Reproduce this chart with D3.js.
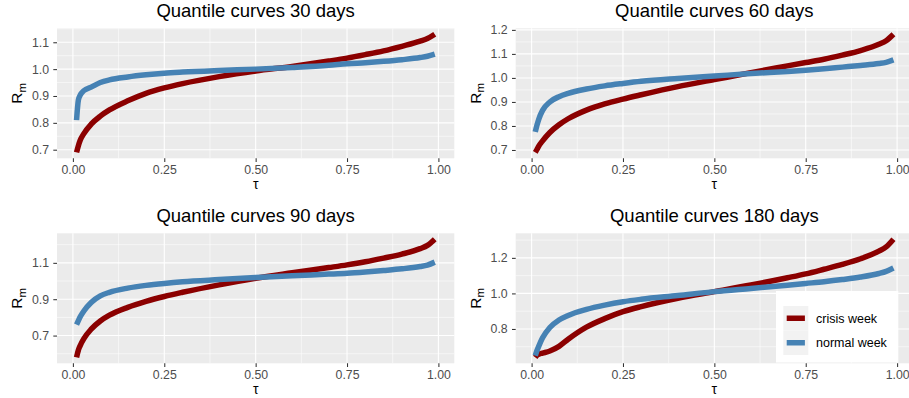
<!DOCTYPE html>
<html>
<head>
<meta charset="utf-8">
<script src="https://cdn.jsdelivr.net/npm/d3@7"></script>
<style>
  html, body { margin: 0; padding: 0; background: #fff; }
  svg { display: block; font-family: "Liberation Sans", Arial, sans-serif; }
</style>
</head>
<body>
<div id="chart"></div>
<script>
// quantile levels shared by every panel
const TAU = [0.01, 0.015, 0.02, 0.03, 0.05, 0.075, 0.1, 0.15, 0.2, 0.25, 0.3, 0.4, 0.5, 0.6, 0.7, 0.75, 0.8, 0.85, 0.9, 0.95, 0.97, 0.99];

const CRISIS_30 = [0.69, 0.715, 0.735, 0.76, 0.795, 0.825, 0.848, 0.882, 0.91, 0.93, 0.946, 0.972, 0.993, 1.01, 1.03, 1.041, 1.054, 1.068, 1.085, 1.104, 1.114, 1.13];
const NORMAL_30 = [0.81, 0.885, 0.903, 0.92, 0.933, 0.95, 0.96, 0.971, 0.979, 0.985, 0.989, 0.995, 1.0, 1.006, 1.014, 1.02, 1.024, 1.029, 1.035, 1.043, 1.048, 1.056];

const CRISIS_60 = [0.69, 0.703, 0.717, 0.738, 0.773, 0.805, 0.83, 0.866, 0.892, 0.912, 0.93, 0.964, 0.993, 1.022, 1.05, 1.064, 1.078, 1.095, 1.114, 1.14, 1.155, 1.182];
const NORMAL_60 = [0.775, 0.805, 0.83, 0.865, 0.9, 0.922, 0.936, 0.954, 0.967, 0.977, 0.986, 0.998, 1.008, 1.018, 1.027, 1.032, 1.038, 1.045, 1.052, 1.06, 1.065, 1.075];

const CRISIS_90 = [0.58, 0.62, 0.645, 0.683, 0.735, 0.78, 0.812, 0.855, 0.888, 0.915, 0.938, 0.979, 1.015, 1.045, 1.074, 1.089, 1.106, 1.126, 1.148, 1.178, 1.196, 1.23];
const NORMAL_90 = [0.76, 0.782, 0.803, 0.835, 0.882, 0.918, 0.938, 0.961, 0.976, 0.987, 0.996, 1.008, 1.019, 1.029, 1.038, 1.043, 1.05, 1.058, 1.067, 1.08, 1.088, 1.104];

const CRISIS_180 = [0.64, 0.652, 0.658, 0.664, 0.676, 0.702, 0.742, 0.81, 0.858, 0.897, 0.926, 0.973, 1.01, 1.047, 1.088, 1.11, 1.136, 1.163, 1.195, 1.238, 1.262, 1.305];
const NORMAL_180 = [0.65, 0.68, 0.705, 0.75, 0.808, 0.85, 0.876, 0.91, 0.934, 0.953, 0.967, 0.988, 1.01, 1.028, 1.046, 1.056, 1.066, 1.078, 1.092, 1.112, 1.124, 1.143];

const X_TICKS = [0, 0.25, 0.5, 0.75, 1];
const Y_TICKS_30 = [0.7, 0.8, 0.9, 1.0, 1.1];
const Y_TICKS_60 = [0.7, 0.8, 0.9, 1.0, 1.1, 1.2];
const Y_TICKS_90 = [0.7, 0.9, 1.1];
const Y_TICKS_180 = [0.8, 1.0, 1.2];

const TITLES = ["Quantile curves 30 days", "Quantile curves 60 days", "Quantile curves 90 days", "Quantile curves 180 days"];
const SERIES_NAMES = ["crisis week", "normal week"];
const SERIES_COLORS = ["#8B0000", "#4682B4"];

const panels = [
  { title: TITLES[0], crisis: CRISIS_30, normal: NORMAL_30, yTicks: Y_TICKS_30, col: 0, row: 0 },
  { title: TITLES[1], crisis: CRISIS_60, normal: NORMAL_60, yTicks: Y_TICKS_60, col: 1, row: 0 },
  { title: TITLES[2], crisis: CRISIS_90, normal: NORMAL_90, yTicks: Y_TICKS_90, col: 0, row: 1 },
  { title: TITLES[3], crisis: CRISIS_180, normal: NORMAL_180, yTicks: Y_TICKS_180, col: 1, row: 1, legend: true },
];

const W = 909, H = 398;
const PANEL_LEFT = [57, 515.7];
const PANEL_TOP = [28.3, 233.3];
const PANEL_W = 397.3, PANEL_H = 130;
const X_PAD = 0.0435;

function minorBreaks(ticks, domain) {
  const step = ticks[1] - ticks[0];
  const out = [];
  for (let i = -1; i < ticks.length; i++) {
    const v = ticks[0] + (i + 0.5) * step;
    if (v > domain[0] && v < domain[1]) out.push(v);
  }
  return out;
}

function drawPanel(svg, p) {
  const left = PANEL_LEFT[p.col], top = PANEL_TOP[p.row];
  const g = svg.append("g");

  const x = d3.scaleLinear().domain([0 - X_PAD, 1 + X_PAD]).range([left, left + PANEL_W]);
  const ext = d3.extent(p.crisis.concat(p.normal));
  const pad = (ext[1] - ext[0]) * 0.05;
  const y = d3.scaleLinear().domain([ext[0] - pad, ext[1] + pad]).range([top + PANEL_H, top]);

  g.append("rect")
    .attr("x", left).attr("y", top)
    .attr("width", PANEL_W).attr("height", PANEL_H)
    .attr("fill", "#EBEBEB");

  // minor grid
  const xMinor = minorBreaks(X_TICKS, x.domain());
  const yMinor = minorBreaks(p.yTicks, y.domain());
  g.selectAll(".xminor").data(xMinor).join("line")
    .attr("x1", (d) => x(d)).attr("x2", (d) => x(d))
    .attr("y1", top).attr("y2", top + PANEL_H)
    .attr("stroke", "#fff").attr("stroke-width", 0.55);
  g.selectAll(".yminor").data(yMinor).join("line")
    .attr("x1", left).attr("x2", left + PANEL_W)
    .attr("y1", (d) => y(d)).attr("y2", (d) => y(d))
    .attr("stroke", "#fff").attr("stroke-width", 0.55);

  // major grid
  g.selectAll(".xmajor").data(X_TICKS).join("line")
    .attr("x1", (d) => x(d)).attr("x2", (d) => x(d))
    .attr("y1", top).attr("y2", top + PANEL_H)
    .attr("stroke", "#fff").attr("stroke-width", 1.1);
  g.selectAll(".ymajor").data(p.yTicks).join("line")
    .attr("x1", left).attr("x2", left + PANEL_W)
    .attr("y1", (d) => y(d)).attr("y2", (d) => y(d))
    .attr("stroke", "#fff").attr("stroke-width", 1.1);

  // axes
  const xAxis = d3.axisBottom(x).tickValues(X_TICKS).tickSize(3.7).tickPadding(2.8)
    .tickFormat(d3.format(".2f"));
  g.append("g")
    .attr("transform", `translate(0,${top + PANEL_H})`)
    .call(xAxis)
    .call((a) => a.select(".domain").remove())
    .call((a) => a.selectAll("line").attr("stroke", "#333").attr("stroke-width", 1.05))
    .call((a) => a.selectAll("text").attr("fill", "#4D4D4D").attr("font-size", 12.3)
      .attr("font-family", "Liberation Sans, Arial, sans-serif"));

  const yAxis = d3.axisLeft(y).tickValues(p.yTicks).tickSize(3.7).tickPadding(4.3)
    .tickFormat(d3.format(".1f"));
  g.append("g")
    .attr("transform", `translate(${left},0)`)
    .call(yAxis)
    .call((a) => a.select(".domain").remove())
    .call((a) => a.selectAll("line").attr("stroke", "#333").attr("stroke-width", 1.05))
    .call((a) => a.selectAll("text").attr("fill", "#4D4D4D").attr("font-size", 12.3)
      .attr("font-family", "Liberation Sans, Arial, sans-serif"));

  // series
  const line = d3.line()
    .x((d) => x(d[0]))
    .y((d) => y(d[1]))
    .curve(d3.curveMonotoneX);

  [p.crisis, p.normal].forEach((vals, i) => {
    g.append("path")
      .datum(TAU.map((t, j) => [t, vals[j]]))
      .attr("d", line)
      .attr("fill", "none")
      .attr("stroke", SERIES_COLORS[i])
      .attr("stroke-width", 5.5)
      .attr("stroke-linejoin", "round")
      .attr("stroke-linecap", "butt");
  });

  // titles
  const cx = left + PANEL_W / 2;
  g.append("text")
    .attr("x", cx).attr("y", top - 11.3)
    .attr("text-anchor", "middle")
    .attr("font-size", 18.5)
    .attr("fill", "#000")
    .text(p.title);

  g.append("text")
    .attr("x", cx).attr("y", top + PANEL_H + 31)
    .attr("text-anchor", "middle")
    .attr("font-size", 14)
    .attr("fill", "#000")
    .text("τ");

  const yt = g.append("text")
    .attr("transform", `translate(${left - 35},${top + PANEL_H / 2}) rotate(-90)`)
    .attr("text-anchor", "middle")
    .attr("font-size", 15.4)
    .attr("fill", "#000");
  yt.append("tspan").text("R");
  yt.append("tspan").attr("dy", 3.5).attr("font-size", 11.5).text("m");

  if (p.legend) drawLegend(g, left, top);
}

function drawLegend(g, left, top) {
  const bx = left + 260.3, by = top + 57.7;
  const bw = 122.3, bh = 71.5;
  g.append("rect")
    .attr("x", bx).attr("y", by).attr("width", bw).attr("height", bh)
    .attr("fill", "#fff");

  const keyX = bx + 7.3, keyY = by + 15, keyW = 25, keyH = 24.5;
  SERIES_NAMES.forEach((name, i) => {
    const ky = keyY + i * keyH;
    g.append("rect")
      .attr("x", keyX).attr("y", ky).attr("width", keyW).attr("height", keyH)
      .attr("fill", "#F2F2F2");
    g.append("line")
      .attr("x1", keyX + 3.4).attr("x2", keyX + keyW - 3.4)
      .attr("y1", ky + keyH / 2).attr("y2", ky + keyH / 2)
      .attr("stroke", SERIES_COLORS[i]).attr("stroke-width", 5.5);
    g.append("text")
      .attr("x", keyX + keyW + 7.7).attr("y", ky + keyH / 2 + 4.4)
      .attr("font-size", 12.5)
      .attr("fill", "#000")
      .text(name);
  });
}

const svg = d3.select("#chart").append("svg")
  .attr("width", W).attr("height", H)
  .attr("viewBox", `0 0 ${W} ${H}`);

svg.append("rect").attr("width", W).attr("height", H).attr("fill", "#fff");

panels.forEach((p) => drawPanel(svg, p));
</script>
</body>
</html>
